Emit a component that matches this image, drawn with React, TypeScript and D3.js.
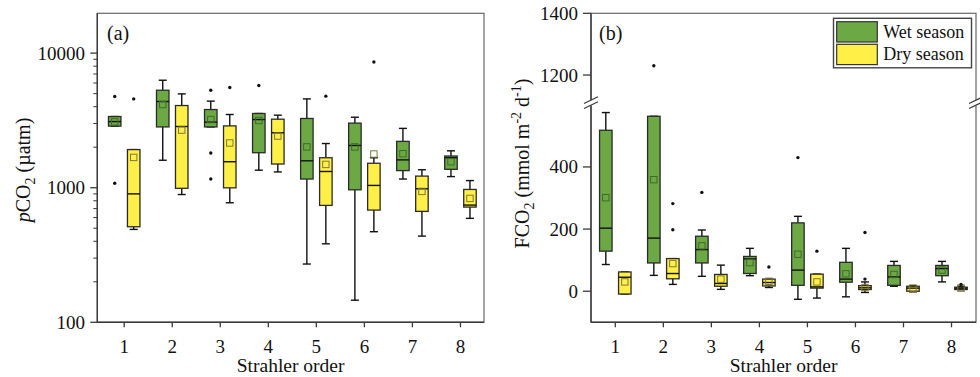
import React from "react";
import * as d3 from "d3";

type Box = { min: number; q1: number; med: number; q3: number; max: number; mean: number; out: number[] };

const orders = [1, 2, 3, 4, 5, 6, 7, 8];

// Panel (a): pCO2 (µatm)
const pco2Wet: Box[] = [
  { min: 2870, q1: 2870, med: 3100, q3: 3380, max: 3380, mean: 3085, out: [4760, 1080] },
  { min: 1600, q1: 2830, med: 4370, q3: 5300, max: 6290, mean: 4150, out: [] },
  { min: 2830, q1: 2830, med: 3070, q3: 3810, max: 4400, mean: 3210, out: [5300, 1810, 1160] },
  { min: 1350, q1: 1820, med: 3210, q3: 3560, max: 3560, mean: 3160, out: [5750] },
  { min: 271, q1: 1160, med: 1585, q3: 3270, max: 4570, mean: 2010, out: [] },
  { min: 146, q1: 965, med: 2060, q3: 3020, max: 3340, mean: 2010, out: [] },
  { min: 1160, q1: 1340, med: 1610, q3: 2210, max: 2760, mean: 1790, out: [] },
  { min: 1210, q1: 1370, med: 1670, q3: 1720, max: 1880, mean: 1560, out: [] },
];
const pco2Dry: Box[] = [
  { min: 490, q1: 513, med: 900, q3: 1920, max: 1920, mean: 1680, out: [4570] },
  { min: 890, q1: 990, med: 2850, q3: 4080, max: 4980, mean: 2680, out: [] },
  { min: 773, q1: 998, med: 1560, q3: 2880, max: 3500, mean: 2150, out: [5560] },
  { min: 1310, q1: 1500, med: 2560, q3: 3230, max: 3460, mean: 2420, out: [] },
  { min: 383, q1: 739, med: 1320, q3: 1670, max: 2130, mean: 1490, out: [4790] },
  { min: 471, q1: 682, med: 1040, q3: 1520, max: 1670, mean: 1780, out: [8600] },
  { min: 437, q1: 667, med: 982, q3: 1220, max: 1360, mean: 939, out: [] },
  { min: 592, q1: 718, med: 743, q3: 971, max: 1130, mean: 833, out: [] },
];

// Panel (b): FCO2 (mmol m-2 d-1)
const fco2Wet: Box[] = [
  { min: 86, q1: 129, med: 203, q3: 518, max: 575, mean: 301, out: [] },
  { min: 51, q1: 91, med: 171, q3: 563, max: 563, mean: 359, out: [1230] },
  { min: 48, q1: 91, med: 134, q3: 177, max: 197, mean: 146, out: [318] },
  { min: 50, q1: 57, med: 104, q3: 112, max: 138, mean: 92, out: [] },
  { min: -26, q1: 19, med: 68, q3: 220, max: 241, mean: 119, out: [430] },
  { min: -18, q1: 29, med: 39, q3: 93, max: 138, mean: 56, out: [] },
  { min: 16, q1: 19, med: 46, q3: 83, max: 96, mean: 54, out: [] },
  { min: 30, q1: 50, med: 73, q3: 83, max: 96, mean: 68, out: [] },
];
const fco2Dry: Box[] = [
  { min: -9, q1: -9, med: 45, q3: 62, max: 62, mean: 30, out: [] },
  { min: 22, q1: 40, med: 57, q3: 105, max: 105, mean: 89, out: [282, 198] },
  { min: 6, q1: 16, med: 25, q3: 54, max: 84, mean: 39, out: [] },
  { min: 12, q1: 17, med: 28, q3: 39, max: 39, mean: 32, out: [78] },
  { min: -22, q1: 10, med: 14, q3: 55, max: 55, mean: 30, out: [129] },
  { min: -4, q1: 5.5, med: 11, q3: 18, max: 30, mean: 12, out: [189, 39] },
  { min: -2, q1: 0, med: 10, q3: 16, max: 18, mean: 10, out: [] },
  { min: 5, q1: 5.5, med: 9.7, q3: 13, max: 16, mean: 10, out: [22] },
];

const aTicks = [100, 1000, 10000];
const bTicks = [0, 200, 400, 1200, 1400];
const seasons = ["Wet season", "Dry season"];

const WET = "#6CA945";
const DRY = "#FFEF47";
const FONT = "'Liberation Serif', 'Times New Roman', serif";
const AX = "#3a3a3a";

function BoxMark({ d, cx, y, fill, meanStroke }: { d: Box; cx: number; y: (v: number) => number; fill: string; meanStroke: string }) {
  const w = 12.5;
  const cap = 8;
  return (
    <g>
      <line x1={cx} x2={cx} y1={y(d.max)} y2={y(d.q3)} stroke="#111" strokeWidth={1.4} />
      <line x1={cx} x2={cx} y1={y(d.q1)} y2={y(d.min)} stroke="#111" strokeWidth={1.4} />
      <line x1={cx - cap / 2} x2={cx + cap / 2} y1={y(d.max)} y2={y(d.max)} stroke="#111" strokeWidth={1.4} />
      <line x1={cx - cap / 2} x2={cx + cap / 2} y1={y(d.min)} y2={y(d.min)} stroke="#111" strokeWidth={1.4} />
      <rect x={cx - w / 2} y={y(d.q3)} width={w} height={Math.max(1, y(d.q1) - y(d.q3))} fill={fill} stroke="#2a2a2a" strokeWidth={1.3} />
      <line x1={cx - w / 2} x2={cx + w / 2} y1={y(d.med)} y2={y(d.med)} stroke="#111" strokeWidth={1.4} />
      <rect x={cx - 3.2} y={y(d.mean) - 3.2} width={6.4} height={6.4} fill="none" stroke={meanStroke} strokeWidth={1} />
      {d.out.map((o, i) => (
        <circle key={i} cx={cx} cy={y(o)} r={1.7} fill="#111" />
      ))}
    </g>
  );
}

export default function App() {
  const xA = d3.scaleLinear().domain([0.44, 8.49]).range([97.3, 484]);
  const yA = d3.scaleLog().domain([100, 19770]).range([322.3, 13.3]);
  const xB = d3.scaleLinear().domain([0.494, 8.51]).range([591, 976]);
  const yB = d3.scaleLinear().domain([-100, 590, 1110, 1400]).range([322.3, 107.9, 102.8, 13.3]);

  const off = 9.5;
  const minorA: number[] = [];
  for (let e = 100; e <= 10000; e *= 10) {
    for (let m = 2; m <= 9; m++) {
      const v = e * m;
      if (v <= 19770) minorA.push(v);
    }
  }

  const top = 13.3;
  const bottom = 322.3;

  return (
    <div style={{ position: "absolute", left: 0, top: 0 }}>
      <svg width={980} height={377} style={{ display: "block", background: "#fff" }} fontFamily={FONT}>
        {/* ---------- Panel (a) ---------- */}
        <g>
          <rect x={xA.range()[0]} y={top} width={xA.range()[1] - xA.range()[0]} height={bottom - top} fill="none" stroke="#666" strokeWidth={1.2} />
          <line x1={xA.range()[0]} x2={xA.range()[0]} y1={top} y2={bottom} stroke={AX} strokeWidth={1.4} />
          <line x1={xA.range()[0]} x2={xA.range()[1]} y1={bottom} y2={bottom} stroke={AX} strokeWidth={1.4} />
          {aTicks.map((t) => (
            <g key={t}>
              <line x1={xA.range()[0] - 7} x2={xA.range()[0]} y1={yA(t)} y2={yA(t)} stroke={AX} strokeWidth={1.3} />
              <text x={85} y={yA(t) + 6.5} fontSize={19} textAnchor="end" fill="#111">{t}</text>
            </g>
          ))}
          {minorA.map((t) => (
            <line key={t} x1={xA.range()[0] - 4} x2={xA.range()[0]} y1={yA(t)} y2={yA(t)} stroke={AX} strokeWidth={1} />
          ))}
          {orders.map((o) => (
            <g key={o}>
              <line x1={xA(o)} x2={xA(o)} y1={bottom} y2={bottom + 5} stroke={AX} strokeWidth={1.3} />
              <text x={xA(o)} y={353} fontSize={19} textAnchor="middle" fill="#111">{o}</text>
            </g>
          ))}
          <text x={(xA.range()[0] + xA.range()[1]) / 2} y={372} fontSize={19.5} textAnchor="middle" fill="#111">Strahler order</text>
          <text transform="translate(30,170) rotate(-90)" fontSize={20} textAnchor="middle" fill="#111">
            <tspan fontStyle="italic">p</tspan>CO<tspan dy={5} fontSize={14}>2</tspan><tspan dy={-5}> (µatm)</tspan>
          </text>
          <text x={107} y={40} fontSize={20} fill="#111">(a)</text>
          {orders.map((o, i) => (
            <g key={o}>
              <BoxMark d={pco2Wet[i]} cx={xA(o) - off} y={yA} fill={WET} meanStroke="#3f6b2a" />
              <BoxMark d={pco2Dry[i]} cx={xA(o) + off} y={yA} fill={DRY} meanStroke="#7d7a3a" />
            </g>
          ))}
        </g>

        {/* ---------- Panel (b) ---------- */}
        <g>
          <rect x={xB.range()[0]} y={top} width={xB.range()[1] - xB.range()[0]} height={bottom - top} fill="none" stroke="#666" strokeWidth={1.2} />
          <line x1={xB.range()[0]} x2={xB.range()[0]} y1={top} y2={bottom} stroke={AX} strokeWidth={1.4} />
          <line x1={xB.range()[0]} x2={xB.range()[1]} y1={bottom} y2={bottom} stroke={AX} strokeWidth={1.4} />
          {/* axis breaks */}
          {[xB.range()[0], xB.range()[1]].map((bx, i) => (
            <g key={i}>
              <rect x={bx - 2} y={100.3} width={4} height={5.2} fill="#fff" />
              <line x1={bx - 7} x2={bx + 7} y1={103.5} y2={96.8} stroke={AX} strokeWidth={1.2} />
              <line x1={bx - 7} x2={bx + 7} y1={108.5} y2={101.8} stroke={AX} strokeWidth={1.2} />
            </g>
          ))}
          {bTicks.map((t) => (
            <g key={t}>
              <line x1={xB.range()[0] - 8} x2={xB.range()[0]} y1={yB(t)} y2={yB(t)} stroke={AX} strokeWidth={1.3} />
              <text x={578} y={yB(t) + 6.5} fontSize={19} textAnchor="end" fill="#111">{t}</text>
            </g>
          ))}
          {orders.map((o) => (
            <g key={o}>
              <line x1={xB(o)} x2={xB(o)} y1={bottom} y2={bottom + 5} stroke={AX} strokeWidth={1.3} />
              <text x={xB(o)} y={353} fontSize={19} textAnchor="middle" fill="#111">{o}</text>
            </g>
          ))}
          <text x={(xB.range()[0] + xB.range()[1]) / 2} y={372} fontSize={19.5} textAnchor="middle" fill="#111">Strahler order</text>
          <text transform="translate(529,163.5) rotate(-90)" fontSize={20} textAnchor="middle" fill="#111">
            FCO<tspan dy={5} fontSize={14}>2</tspan>
            <tspan dy={-5}> (mmol m</tspan>
            <tspan dy={-8} fontSize={14}>-2</tspan>
            <tspan dy={8}> d</tspan>
            <tspan dy={-8} fontSize={14}>-1</tspan>
            <tspan dy={8}>)</tspan>
          </text>
          <text x={599} y={40} fontSize={20} fill="#111">(b)</text>
          {orders.map((o, i) => (
            <g key={o}>
              <BoxMark d={fco2Wet[i]} cx={xB(o) - off} y={yB} fill={WET} meanStroke="#3f6b2a" />
              <BoxMark d={fco2Dry[i]} cx={xB(o) + off} y={yB} fill={DRY} meanStroke="#7d7a3a" />
            </g>
          ))}

          {/* legend */}
          <g>
            <rect x={833.5} y={18.3} width={138} height={49.5} fill="#fff" stroke="#444" strokeWidth={1.4} />
            {seasons.map((s, i) => (
              <g key={s}>
                <rect x={836.7} y={21.7 + i * 22.6} width={40.6} height={20.3} fill={i === 0 ? WET : DRY} stroke="#333" strokeWidth={1.2} />
                <text x={883.3} y={38.3 + i * 22} fontSize={18} fill="#111">{s}</text>
              </g>
            ))}
          </g>
        </g>
      </svg>
    </div>
  );
}
